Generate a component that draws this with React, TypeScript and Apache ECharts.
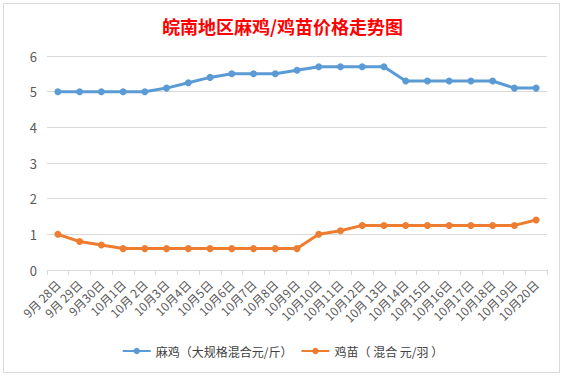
import React, { useEffect, useRef } from "react";
import * as echarts from "echarts";

const categories = [
  "9月 28日", "9月 29日", "9月30日", "10月1日", "10月 2日", "10月3日", "10月4日",
  "10月5日", "10月6日", "10月7日", "10月8日", "10月9日", "10月10日", "10月11日",
  "10月12日", "10月 13日", "10月14日", "10月15日", "10月16日", "10月17日",
  "10月18日", "10月19日", "10月20日",
];
const majiValues = [5, 5, 5, 5, 5, 5.1, 5.25, 5.4, 5.5, 5.5, 5.5, 5.6, 5.7, 5.7, 5.7, 5.7, 5.3, 5.3, 5.3, 5.3, 5.3, 5.1, 5.1];
const jimiaoValues = [1, 0.8, 0.7, 0.6, 0.6, 0.6, 0.6, 0.6, 0.6, 0.6, 0.6, 0.6, 1, 1.1, 1.25, 1.25, 1.25, 1.25, 1.25, 1.25, 1.25, 1.25, 1.4];
const seriesNames = ["麻鸡（大规格混合元/斤）", "鸡苗（ 混合 元/羽 ）"];
const titleText = "皖南地区麻鸡/鸡苗价格走势图";

const FONT = "'Noto Sans CJK SC', 'Microsoft YaHei', sans-serif";

export default function App() {
  const ref = useRef<HTMLDivElement>(null);
  useEffect(() => {
    document.body.style.margin = "0";
    const chart = echarts.init(ref.current!, null, { renderer: "svg" });
    chart.setOption({
      animation: false,
      backgroundColor: "#ffffff",
      textStyle: { fontFamily: FONT },
      title: {
        text: titleText,
        left: "center",
        top: 12,
        textStyle: { color: "#ff0000", fontSize: 18, fontWeight: "bold", fontFamily: FONT },
      },
      graphic: [
        {
          type: "rect",
          shape: { x: 3.5, y: 3.5, width: 556, height: 369 },
          style: { fill: "none", stroke: "#d9d9d9", lineWidth: 1 },
          silent: true,
        },
      ],
      legend: {
        bottom: 15,
        left: "center",
        itemWidth: 28,
        itemHeight: 8,
        itemGap: 8,
        textStyle: { color: "#404040", fontSize: 12, fontFamily: FONT },
        data: seriesNames,
      },
      grid: { left: 47, right: 18, top: 56, bottom: 107 },
      xAxis: {
        type: "category",
        data: categories,
        boundaryGap: true,
        axisLine: { lineStyle: { color: "#d9d9d9" } },
        axisTick: { show: true, length: 5, lineStyle: { color: "#d9d9d9" } },
        axisLabel: {
          rotate: 45,
          interval: 0,
          color: "#595959",
          fontSize: 12,
          margin: 12,
          fontFamily: FONT,
        },
      },
      yAxis: {
        type: "value",
        min: 0,
        max: 6,
        interval: 1,
        axisLine: { show: false },
        axisTick: { show: false },
        splitLine: { lineStyle: { color: "#d9d9d9" } },
        axisLabel: { color: "#595959", fontSize: 13, margin: 10, fontFamily: FONT },
      },
      series: [
        {
          name: seriesNames[0],
          type: "line",
          data: majiValues,
          symbol: "circle",
          symbolSize: 7,
          itemStyle: { color: "#5b9bd5" },
          lineStyle: { color: "#5b9bd5", width: 3 },
        },
        {
          name: seriesNames[1],
          type: "line",
          data: jimiaoValues,
          symbol: "circle",
          symbolSize: 7,
          itemStyle: { color: "#ed7d31" },
          lineStyle: { color: "#ed7d31", width: 3 },
        },
      ],
    });
    return () => chart.dispose();
  }, []);
  return <div ref={ref} style={{ width: 565, height: 377 }} />;
}
